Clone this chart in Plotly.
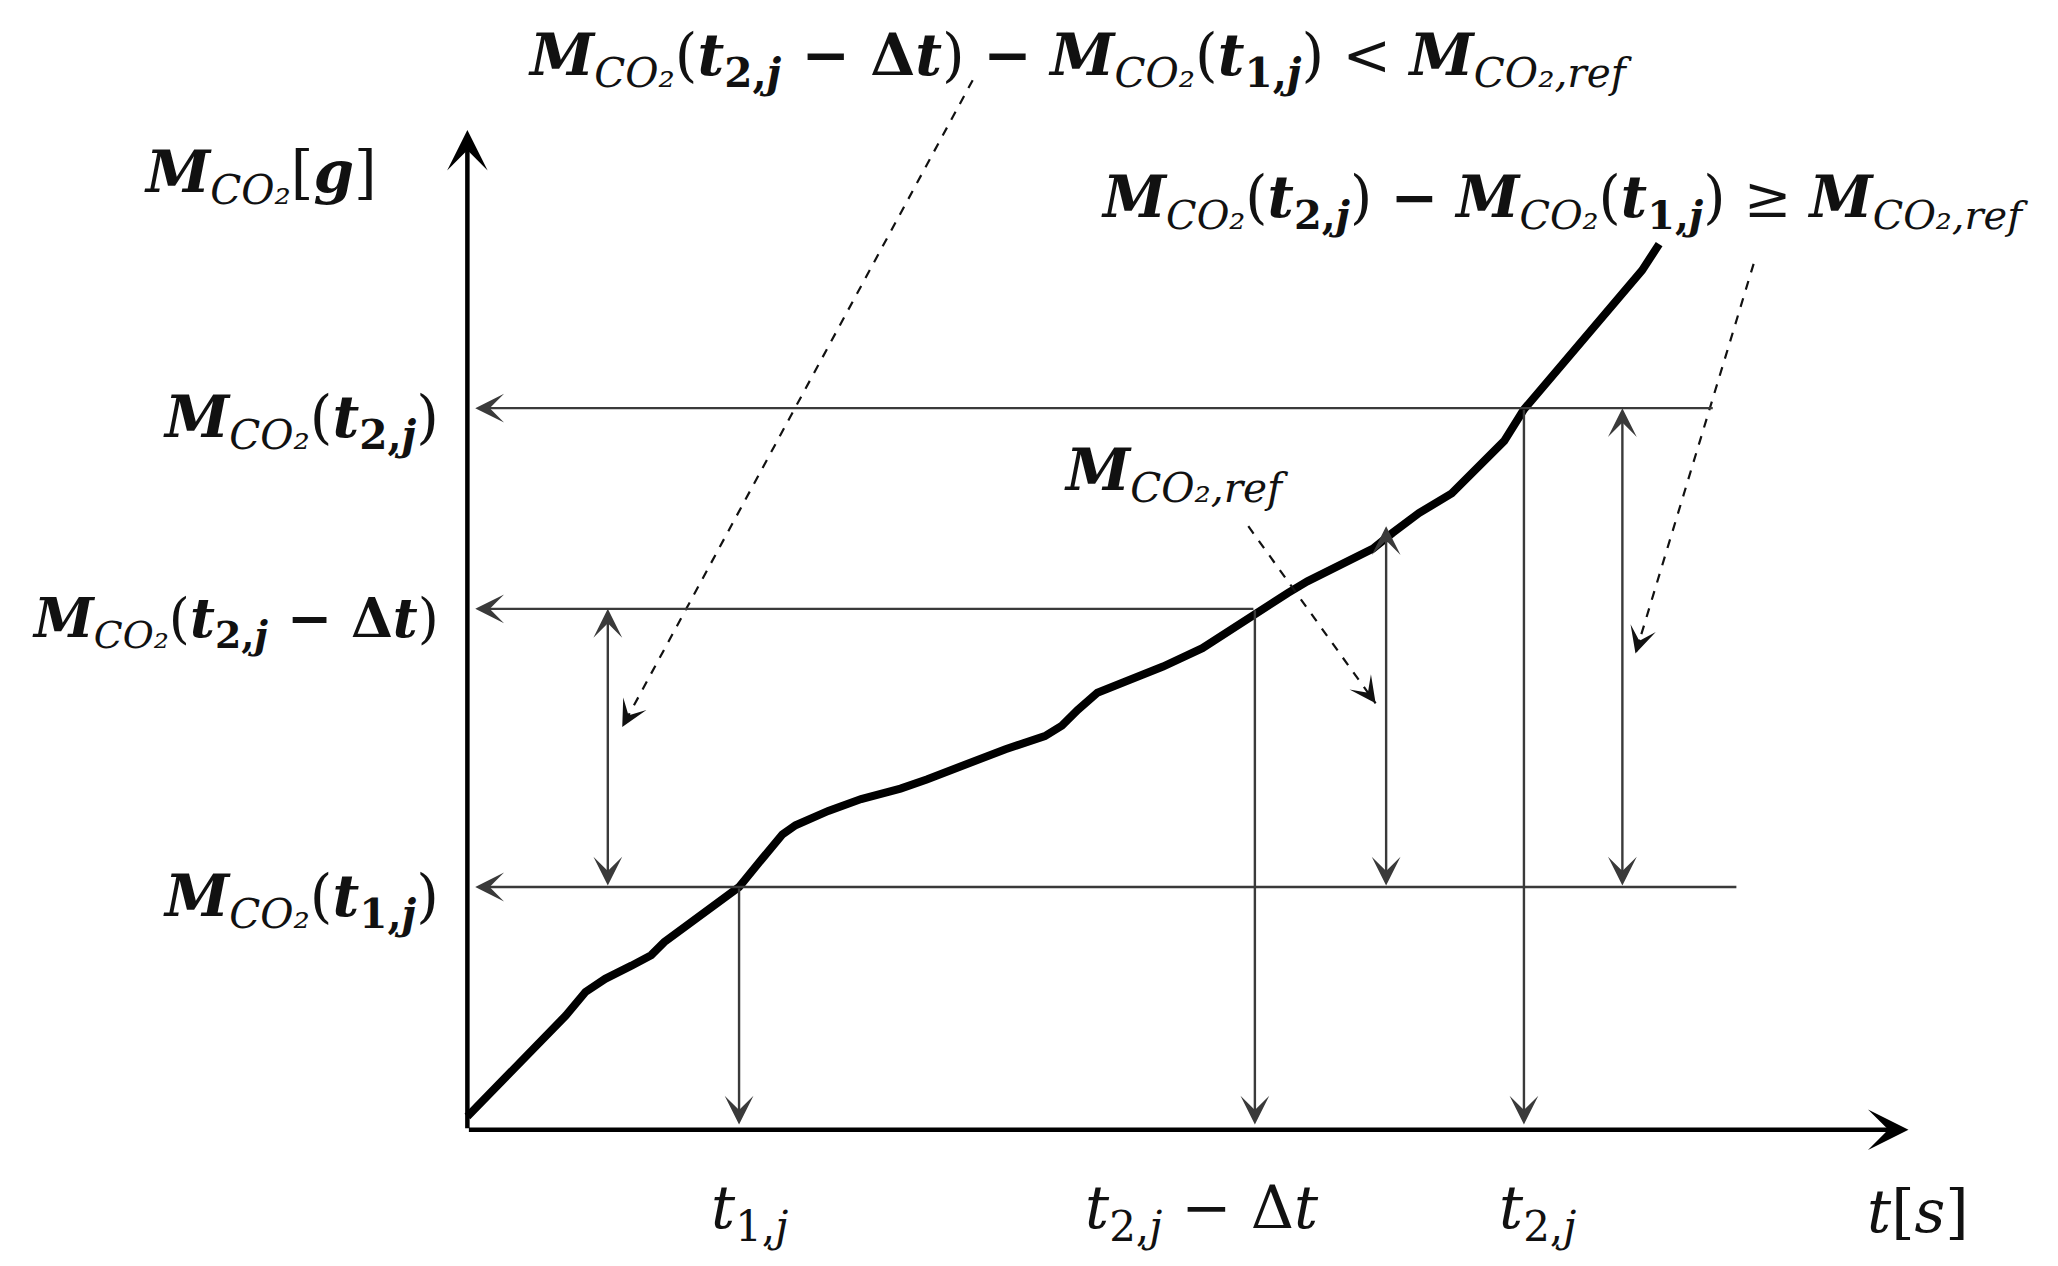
import plotly.graph_objects as go

# ---------------- data (schematic units) ----------------
t_curve = [0.00, 0.10, 0.35, 0.60, 0.75, 0.90, 1.05, 1.25, 1.40, 1.50, 1.70, 1.90, 2.07,
           2.25, 2.40, 2.50, 2.75, 3.00, 3.30, 3.50, 3.80, 4.10, 4.40, 4.53, 4.65, 4.80,
           5.00, 5.30, 5.60, 5.90, 6.05, 6.25, 6.40, 6.70, 6.90, 7.05, 7.25, 7.50, 7.70,
           7.90, 8.05, 8.25, 8.50, 8.75, 8.95, 9.08]
M_curve = [0.10, 0.20, 0.47, 0.72, 0.87, 1.05, 1.15, 1.25, 1.33, 1.43, 1.58, 1.72, 1.85,
           2.07, 2.25, 2.32, 2.43, 2.52, 2.60, 2.67, 2.79, 2.90, 3.00, 3.08, 3.20, 3.33,
           3.41, 3.53, 3.67, 3.87, 3.97, 4.09, 4.18, 4.32, 4.43, 4.55, 4.70, 4.85, 5.05,
           5.25, 5.49, 5.73, 6.03, 6.33, 6.55, 6.75]

t_marks = [2.07, 6.00, 8.05]          # t_1j, t_2j - dt, t_2j
M_marks = [1.85, 3.97, 5.50]          # M(t_1j), M(t_2j - dt), M(t_2j)
M_ref_top = 4.60                      # curve level at the reference arrow
t_ref_arrow = 7.00
t_left_arrow = 1.07
t_right_arrow = 8.80
h_line_ends = [9.68, 6.00, 9.50]      # right ends of the horizontal lines

x_tick_labels = ["<i>t</i><sub>1,<i>j</i></sub>",
                 "<i>t</i><sub>2,<i>j</i></sub> − Δ<i>t</i>",
                 "<i>t</i><sub>2,<i>j</i></sub>",
                 "<i>t</i>[<i>s</i>]"]
x_label_pos = [2.15, 5.60, 8.15, 11.05]
MC = "<b><i>M</i></b><sub><i>CO₂</i></sub>"
y_tick_labels = [MC + "(<b><i>t</i><sub>1,<i>j</i></sub></b>)",
                 MC + "(<b><i>t</i><sub>2,<i>j</i></sub> − Δ<i>t</i></b>)",
                 MC + "(<b><i>t</i><sub>2,<i>j</i></sub></b>)"]

X0, X1 = -3.50, 12.18
Y0, Y1 = -1.10, 8.55
W, H = 2058, 1266
sx = W / (X1 - X0)
sy = H / (Y1 - Y0)

FONT = "DejaVu Serif"
INK = "#111111"
GREY = "#3a3a3a"
FS = 58

fig = go.Figure()

# main curve
fig.add_trace(go.Scatter(x=t_curve, y=M_curve, mode="lines",
                         line=dict(color="black", width=8), hoverinfo="skip",
                         showlegend=False))

ann = []

def arrow(x, y, ax, ay, width=2.4, size=2.0, head=3, side="end", color=GREY):
    ann.append(dict(x=x, y=y, ax=ax, ay=ay, xref="x", yref="y", axref="x", ayref="y",
                    text="", showarrow=True, arrowhead=head, startarrowhead=head,
                    arrowsize=size, startarrowsize=size, arrowwidth=width,
                    arrowcolor=color, arrowside=side, standoff=0, startstandoff=0))

# axes with big arrowheads
arrow(10.98, 0, 0, 0, width=4.5, size=1.5, head=3, color="black")
arrow(0, 7.62, 0, 0, width=4.5, size=1.5, head=3, color="black")

# horizontal guide lines (arrow at y axis)
for m, xe in zip(M_marks, h_line_ends):
    arrow(0.06, m, xe, m)

# vertical guide lines (arrow at t axis)
for t, m in zip(t_marks, M_marks):
    arrow(t, 0.04, t, m)

# double arrows
arrow(t_left_arrow, M_marks[1], t_left_arrow, M_marks[0], side="end+start")
arrow(t_ref_arrow, M_ref_top, t_ref_arrow, M_marks[0], side="end+start")
arrow(t_right_arrow, M_marks[2], t_right_arrow, M_marks[0], side="end+start")

# dashed pointer arrows: (tail, head)
dashed = [((3.85, 8.00), (1.18, 3.07)),
          ((9.80, 6.60), (8.90, 3.63)),
          ((5.95, 4.60), (6.92, 3.25))]
for (tx, ty), (hx, hy) in dashed:
    fig.add_trace(go.Scatter(x=[tx, hx], y=[ty, hy], mode="lines",
                             line=dict(color=INK, width=2.2, dash="dash"),
                             hoverinfo="skip", showlegend=False))
    dxp = (tx - hx) * sx
    dyp = -(ty - hy) * sy
    L = (dxp ** 2 + dyp ** 2) ** 0.5
    ann.append(dict(x=hx, y=hy, xref="x", yref="y", ax=dxp / L * 16, ay=dyp / L * 16,
                    text="", showarrow=True, arrowhead=3, arrowsize=2.0,
                    arrowwidth=2.2, arrowcolor=INK, standoff=0))

# texts
def txt(x, y, s, size, xa="center", ya="middle"):
    ann.append(dict(x=x, y=y, xref="x", yref="y", text=s, showarrow=False,
                    xanchor=xa, yanchor=ya,
                    font=dict(family=FONT, size=size, color=INK)))

top = (MC + "(<b><i>t</i><sub>2,<i>j</i></sub> − Δ<i>t</i></b>) <b>−</b> " + MC +
       "(<b><i>t</i><sub>1,<i>j</i></sub></b>) &lt; <b><i>M</i></b><sub><i>CO₂,ref</i></sub>")
right = (MC + "(<b><i>t</i><sub>2,<i>j</i></sub></b>) <b>−</b> " + MC +
         "(<b><i>t</i><sub>1,<i>j</i></sub></b>) ≥ <b><i>M</i></b><sub><i>CO₂,ref</i></sub>")
txt(4.67, 8.16, top, FS)
txt(8.36, 7.08, right, FS - 1)
txt(-0.67, 7.27, MC + "[<b><i>g</i></b>]", FS, xa="right")
txt(5.40, 5.00, "<b><i>M</i></b><sub><i>CO₂,ref</i></sub>", FS)

y_label_sizes = [FS, FS - 4, FS]
for m, lab, fs in zip(M_marks, y_tick_labels, y_label_sizes):
    txt(-0.20, m - 0.10, lab, fs, xa="right")
for t, lab in zip(x_label_pos, x_tick_labels):
    txt(t, -0.62, lab, FS + 2)

fig.update_layout(
    width=W, height=H, margin=dict(l=0, r=0, t=0, b=0),
    paper_bgcolor="white", plot_bgcolor="white",
    xaxis=dict(range=[X0, X1], visible=False, fixedrange=True),
    yaxis=dict(range=[Y0, Y1], visible=False, fixedrange=True),
    annotations=ann, showlegend=False,
)
fig.write_html("out.html")
